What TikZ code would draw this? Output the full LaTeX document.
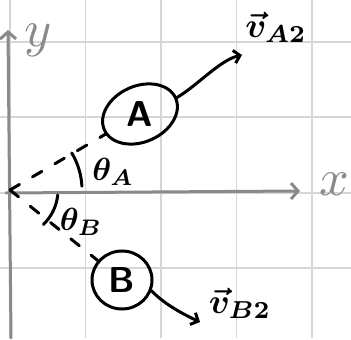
\documentclass[tikz,border=0pt]{standalone}
\usetikzlibrary{arrows.meta,shapes.geometric}
\definecolor{gridgray}{HTML}{D6D6D6}
\definecolor{axisgray}{HTML}{8A8A8A}
\begin{document}
\begin{tikzpicture}[x=1pt,y=1pt,
  gridline/.style={draw=gridgray,line width=1.4pt},
  axis/.style={draw=axisgray,line width=3pt,line cap=round,-{Straight Barb[length=7pt,width=16pt]}},
  ink/.style={line width=3pt,line cap=round},
  inkarrow/.style={ink,-{Straight Barb[length=6pt,width=13pt]}},
  dashline/.style={ink,dash pattern=on 11pt off 15pt},
  blob/.style={ellipse,draw,line width=3pt,inner sep=0pt,font=\sffamily\fontsize{36}{36}\selectfont},
  axlabel/.style={text=axisgray,scale=5.2},
  anglabel/.style={scale=3.2,font=\boldmath},
  vlabel/.style={scale=3.5,font=\boldmath}]
\useasboundingbox (0,0) rectangle (351,340);
\fill[white] (0,0) rectangle (351,340);
% grid
\foreach \x in {10,85.5,161,236.5,312} \draw[gridline] (\x,2) -- (\x,340);
\foreach \y in {72,147,223,298} \draw[gridline] (0,\y) -- (351,\y);
% axes
\coordinate (O) at (10,150);
\coordinate (ybot) at (11,2);
\coordinate (ytop) at (8,310);
\coordinate (xleft) at (6,147);
\coordinate (xright) at (300,149);
\draw[axis] (ybot) -- (ytop);
\draw[axis] (xleft) -- (xright);
\node[axlabel] (ylab) at (38,300) {$y$};
\node[axlabel] (xlab) at (334,156) {$x$};
% particles
\node[blob,minimum width=78,minimum height=56,rotate=24] (A) at (140,226)
  {\rotatebox{-24}{\bfseries A}};
\node[blob,minimum width=60,minimum height=58] (B) at (122,60)
  {\bfseries B};
% dashed lines
\draw[dashline] (O) -- (A);
\draw[dashline] (O) -- (B);
% angle arcs
\draw[ink] ([shift={(3:72)}]O) arc[start angle=3,end angle=31,radius=72];
\draw[ink] ([shift={(-6:48)}]O) arc[start angle=-6,end angle=-46,radius=48];
\node[anglabel] (thA) at (113,168) {$\theta_A$};
\node[anglabel] (thB) at (81,118) {$\theta_B$};
% velocity arrows
\coordinate (vAtip) at (242,285);
\coordinate (vBtip) at (200,18);
\draw[inkarrow] (A.east) .. controls (198,255) and (220,280) .. (vAtip);
\draw[inkarrow] (B.-20) .. controls (165,35) and (185,25) .. (vBtip);
\node[vlabel] (vA) at (276,313) {$\vec v_{A2}$};
\node[vlabel] (vB) at (240,37) {$\vec v_{B2}$};
\end{tikzpicture}
\end{document}
